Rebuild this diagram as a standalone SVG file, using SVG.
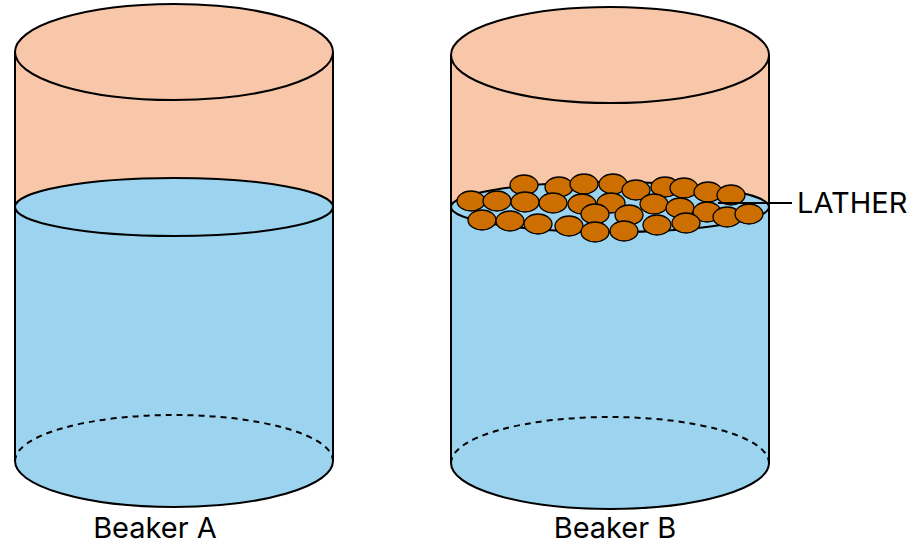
<svg xmlns="http://www.w3.org/2000/svg" width="914" height="546" viewBox="0 0 914 546">
<style>
.o{stroke:#000;stroke-width:2}
.t{font-family:"Inter","Liberation Sans",sans-serif;font-size:29px;fill:#000}
.b{fill:#CC6E00;stroke:#000;stroke-width:1.3}
</style>
<g id="beakerA">
<path d="M15,52 A159,48 0 0 1 333,52 L333,207 L15,207 Z" fill="#F8C6A8"/>
<path d="M15,207 L15,461 A159,46 0 0 0 333,461 L333,207 Z" fill="#9CD4F0"/>
<ellipse cx="174" cy="52" rx="159" ry="48" fill="#F8C6A8" class="o"/>
<ellipse cx="174" cy="207" rx="159" ry="29" fill="#9CD4F0" class="o"/>
<path d="M15,52 V461 M333,52 V461" class="o" fill="none"/>
<path d="M15,461 A159,46 0 0 0 333,461" class="o" fill="none"/>
<path d="M15,461 A159,46 0 0 1 333,461" class="o" fill="none" stroke-dasharray="6,5"/>
<text x="155" y="538" text-anchor="middle" class="t">Beaker A</text>
</g>
<g id="beakerB">
<path d="M451,55 A159,48 0 0 1 769,55 L769,207 L451,207 Z" fill="#F8C6A8"/>
<path d="M451,207 L451,463 A159,46 0 0 0 769,463 L769,207 Z" fill="#9CD4F0"/>
<ellipse cx="610" cy="55" rx="159" ry="48" fill="#F8C6A8" class="o"/>
<ellipse cx="610" cy="207" rx="159" ry="25" fill="#9CD4F0" class="o"/>
<path d="M451,55 V463 M769,55 V463" class="o" fill="none"/>
<path d="M451,463 A159,46 0 0 0 769,463" class="o" fill="none"/>
<path d="M451,463 A159,46 0 0 1 769,463" class="o" fill="none" stroke-dasharray="6,5"/>
<text x="615" y="538" text-anchor="middle" class="t">Beaker B</text>
</g>
<g id="lather">
<ellipse class="b" cx="524" cy="185" rx="14" ry="10"/>
<ellipse class="b" cx="559" cy="187" rx="14" ry="10"/>
<ellipse class="b" cx="584" cy="184" rx="14" ry="10"/>
<ellipse class="b" cx="613" cy="184" rx="14" ry="10"/>
<ellipse class="b" cx="636" cy="190" rx="14" ry="10"/>
<ellipse class="b" cx="665" cy="187" rx="14" ry="10"/>
<ellipse class="b" cx="684" cy="188" rx="14" ry="10"/>
<ellipse class="b" cx="708" cy="192" rx="14" ry="10"/>
<ellipse class="b" cx="731" cy="195" rx="14" ry="10"/>
<ellipse class="b" cx="471" cy="201" rx="14" ry="10"/>
<ellipse class="b" cx="497" cy="201" rx="14" ry="10"/>
<ellipse class="b" cx="525" cy="202" rx="14" ry="10"/>
<ellipse class="b" cx="553" cy="203" rx="14" ry="10"/>
<ellipse class="b" cx="582" cy="204" rx="14" ry="10"/>
<ellipse class="b" cx="611" cy="203" rx="14" ry="10"/>
<ellipse class="b" cx="654" cy="204" rx="14" ry="10"/>
<ellipse class="b" cx="680" cy="208" rx="14" ry="10"/>
<ellipse class="b" cx="707" cy="212" rx="14" ry="10"/>
<ellipse class="b" cx="727" cy="217" rx="14" ry="10"/>
<ellipse class="b" cx="749" cy="214" rx="14" ry="10"/>
<ellipse class="b" cx="482" cy="220" rx="14" ry="10"/>
<ellipse class="b" cx="510" cy="221" rx="14" ry="10"/>
<ellipse class="b" cx="538" cy="224" rx="14" ry="10"/>
<ellipse class="b" cx="569" cy="226" rx="14" ry="10"/>
<ellipse class="b" cx="595" cy="214" rx="14" ry="10"/>
<ellipse class="b" cx="629" cy="215" rx="14" ry="10"/>
<ellipse class="b" cx="595" cy="232" rx="14" ry="10"/>
<ellipse class="b" cx="624" cy="231" rx="14" ry="10"/>
<ellipse class="b" cx="657" cy="225" rx="14" ry="10"/>
<ellipse class="b" cx="686" cy="223" rx="14" ry="10"/>
</g>
<g id="connectors">
<line x1="718" y1="203" x2="792" y2="203" class="o"/>
</g>
<g id="label"><text x="797" y="213" class="t">LATHER</text></g>
</svg>
